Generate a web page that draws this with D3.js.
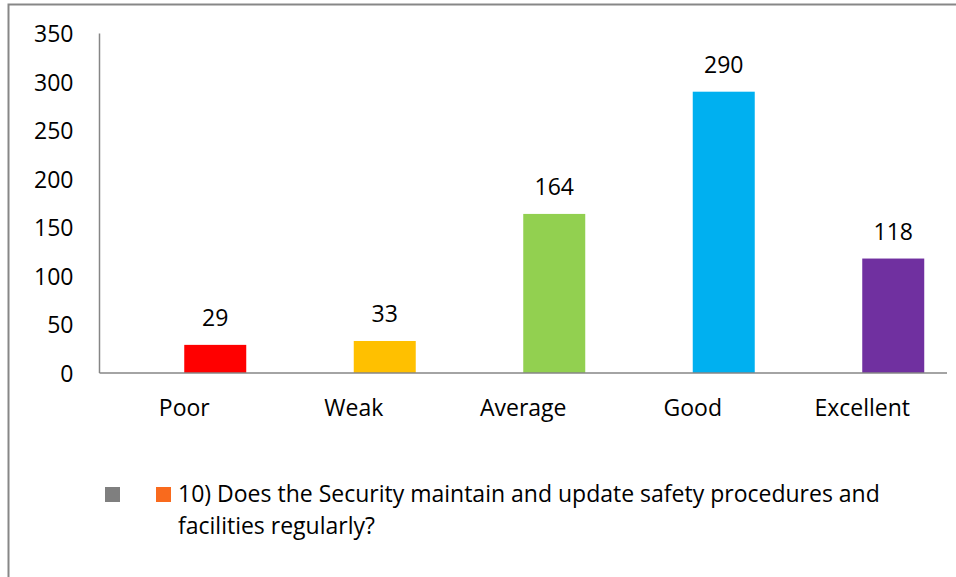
<!DOCTYPE html>
<html>
<head>
<meta charset="utf-8">
<script src="https://cdn.jsdelivr.net/npm/d3@7.9.0/dist/d3.min.js"></script>
<style>
    html, body { margin: 0; padding: 0; background: #fff; }
    svg text { font-family: "Open Sans", "Noto Sans", sans-serif; fill: #000; }
</style>
</head>
<body>
<svg id="chart"></svg>
<script>
// chart data
const categories = ["Poor", "Weak", "Average", "Good", "Excellent"];
const seriesNames = ["", "10) Does the Security maintain and update safety procedures and facilities regularly?"];
const emptySeries = [null, null, null, null, null]; // gray legend entry, no bars
const answerCounts = [29, 33, 164, 290, 118];
const barColors = ["#FF0000", "#FFC000", "#92D050", "#00B0F0", "#7030A0"];
const legendColors = ["#7F7F7F", "#F96A1D"];
const yTicks = [0, 50, 100, 150, 200, 250, 300, 350];
const legendLines = ["10) Does the Security maintain and update safety procedures and", "facilities regularly?"];

const width = 956;
const height = 577;
const plot = { left: 99.5, right: 947, top: 33.5, bottom: 373 };
const fontSize = 23;

const svg = d3.select("#chart")
    .attr("width", width)
    .attr("height", height);

// outer frame
svg.append("rect")
    .attr("x", 8.5)
    .attr("y", 4.5)
    .attr("width", 1000)
    .attr("height", 700)
    .attr("fill", "none")
    .attr("stroke", "#878787")
    .attr("stroke-width", 2);

const x = d3.scaleBand()
    .domain(categories)
    .range([plot.left, plot.right])
    .padding(0);

const xSeries = d3.scaleBand()
    .domain(d3.range(seriesNames.length))
    .range([0, x.bandwidth()])
    .paddingInner(0)
    .paddingOuter(0.367);

const y = d3.scaleLinear()
    .domain([0, 350])
    .range([plot.bottom, plot.top]);

// y axis labels
const yAxis = svg.append("g")
    .attr("transform", `translate(${plot.left},0)`)
    .call(d3.axisLeft(y).tickValues(yTicks).tickSize(0).tickPadding(26));
yAxis.select(".domain").remove();
yAxis.selectAll("text")
    .attr("font-size", fontSize)
    .attr("dy", "0.36em");

// x axis labels
const xAxis = svg.append("g")
    .attr("transform", `translate(0,${plot.bottom})`)
    .call(d3.axisBottom(x).tickSize(0).tickPadding(27));
xAxis.select(".domain").remove();
xAxis.selectAll("text")
    .attr("font-size", fontSize)
    .attr("dy", "0.71em");

const rows = categories.map((c, i) => ({ category: c, value: answerCounts[i], color: barColors[i] }));

// bars (series 1); series 0 has no values
svg.append("g")
    .selectAll("rect")
    .data(rows)
    .enter()
    .append("rect")
    .attr("x", d => x(d.category) + xSeries(1))
    .attr("y", d => y(d.value))
    .attr("width", xSeries.bandwidth())
    .attr("height", d => y(0) - y(d.value))
    .attr("fill", d => d.color);

// value labels
svg.append("g")
    .selectAll("text")
    .data(rows)
    .enter()
    .append("text")
    .attr("x", d => x(d.category) + xSeries(1) + xSeries.bandwidth() / 2)
    .attr("y", d => y(d.value) - 19)
    .attr("text-anchor", "middle")
    .attr("font-size", fontSize)
    .text(d => d.value);

// axis lines
svg.append("line")
    .attr("x1", plot.left).attr("x2", plot.left)
    .attr("y1", plot.top).attr("y2", plot.bottom)
    .attr("stroke", "#868686").attr("stroke-width", 1.5);
svg.append("line")
    .attr("x1", plot.left).attr("x2", plot.right)
    .attr("y1", plot.bottom).attr("y2", plot.bottom)
    .attr("stroke", "#868686").attr("stroke-width", 1.5);

// legend
const legend = svg.append("g");
legend.selectAll("rect")
    .data(legendColors)
    .enter()
    .append("rect")
    .attr("x", (d, i) => i === 0 ? 105 : 156)
    .attr("y", 487)
    .attr("width", 15)
    .attr("height", 15)
    .attr("fill", d => d);

legend.append("text")
    .attr("x", 178)
    .attr("y", 502)
    .attr("font-size", fontSize)
    .selectAll("tspan")
    .data(legendLines)
    .enter()
    .append("tspan")
    .attr("x", 178)
    .attr("dy", (d, i) => i === 0 ? 0 : 32)
    .text(d => d);
</script>
</body>
</html>
